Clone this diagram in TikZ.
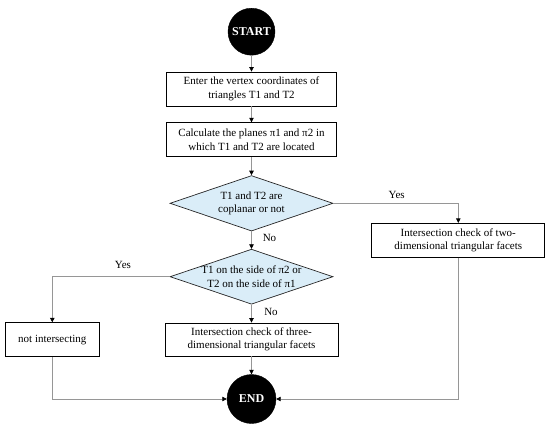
\documentclass[tikz,border=0pt]{standalone}
\usepackage{fontspec}
\setmainfont{Liberation Serif}
\usetikzlibrary{shapes.geometric,arrows.meta}
\definecolor{dblue}{RGB}{218,237,248}
\definecolor{conn}{RGB}{150,150,150}
\tikzset{
  txt/.style={font=\fontsize{11}{13.5}\selectfont, align=center, inner sep=0pt},
  procbox/.style={draw=black, line width=0.8pt, rectangle, minimum height=34pt, inner sep=0pt, font=\fontsize{11}{13.5}\selectfont, align=center},
  term/.style={circle, fill=black, draw=black, inner sep=0pt, text=white, font=\fontsize{12}{14}\selectfont\bfseries},
  decide/.style={diamond, draw=black!85, line width=0.7pt, fill=dblue, inner sep=0pt, minimum width=163pt, minimum height=55.5pt},
  conline/.style={draw=conn, line width=0.7pt, -{Triangle[length=4.5pt,width=4.5pt,black]}},
  lbl/.style={font=\fontsize{11}{13.5}\selectfont, inner sep=0pt}
}
\begin{document}
\begin{tikzpicture}[x=1pt,y=-1pt]
\useasboundingbox (0,0) rectangle (550,429);
\node[term, minimum size=47pt] (start) at (251.5,31.7) {START};
\node[procbox, minimum width=170pt] (b1) at (251.5,89) {Enter the vertex coordinates of\\triangles T1 and T2};
\node[procbox, minimum width=170pt] (b2) at (251.5,139.7) {Calculate the planes π1 and π2 in\\which T1 and T2 are located};
\node[decide] (d1) at (251.5,203.3) {};
\node[txt] (d1t) at (d1.center) {T1 and T2 are\\coplanar or not};
\node[decide, minimum height=55pt] (d2) at (251.5,276.7) {};
\node[txt] (d2t) at (d2.center) {T1 on the side of π2 or\\T2 on the side of π1};
\node[procbox, minimum width=173pt] (b3) at (458.3,240.3) {Intersection check of two-\\dimensional triangular facets};
\node[procbox, minimum width=173pt, minimum height=33pt] (b4) at (251.5,339.5) {Intersection check of three-\\dimensional triangular facets};
\node[procbox, minimum width=93.3pt] (b5) at (52.3,339.7) {not intersecting};
\node[term, minimum size=49pt] (end) at (251.5,399) {END};
\draw[conline] (start) -- (b1);
\draw[conline] (b1) -- (b2);
\draw[conline] (b2) -- (d1.north);
\draw[conline] (d1.east) -| (b3.north);
\draw[conline] (d1.south) -- (d2.north);
\draw[conline] (d2.west) -| (b5.north);
\draw[conline] (d2.south) -- (b4.north);
\draw[conline] (b4) -- (end);
\draw[conline] (b5.south) |- (end.west);
\draw[conline] (b3.south) |- (end.east);
\node[lbl] (y1) at (396.7,195) {Yes};
\node[lbl] (n1) at (269.5,238) {No};
\node[lbl] (y2) at (123,265) {Yes};
\node[lbl] (n2) at (271,311.5) {No};
\end{tikzpicture}
\end{document}
